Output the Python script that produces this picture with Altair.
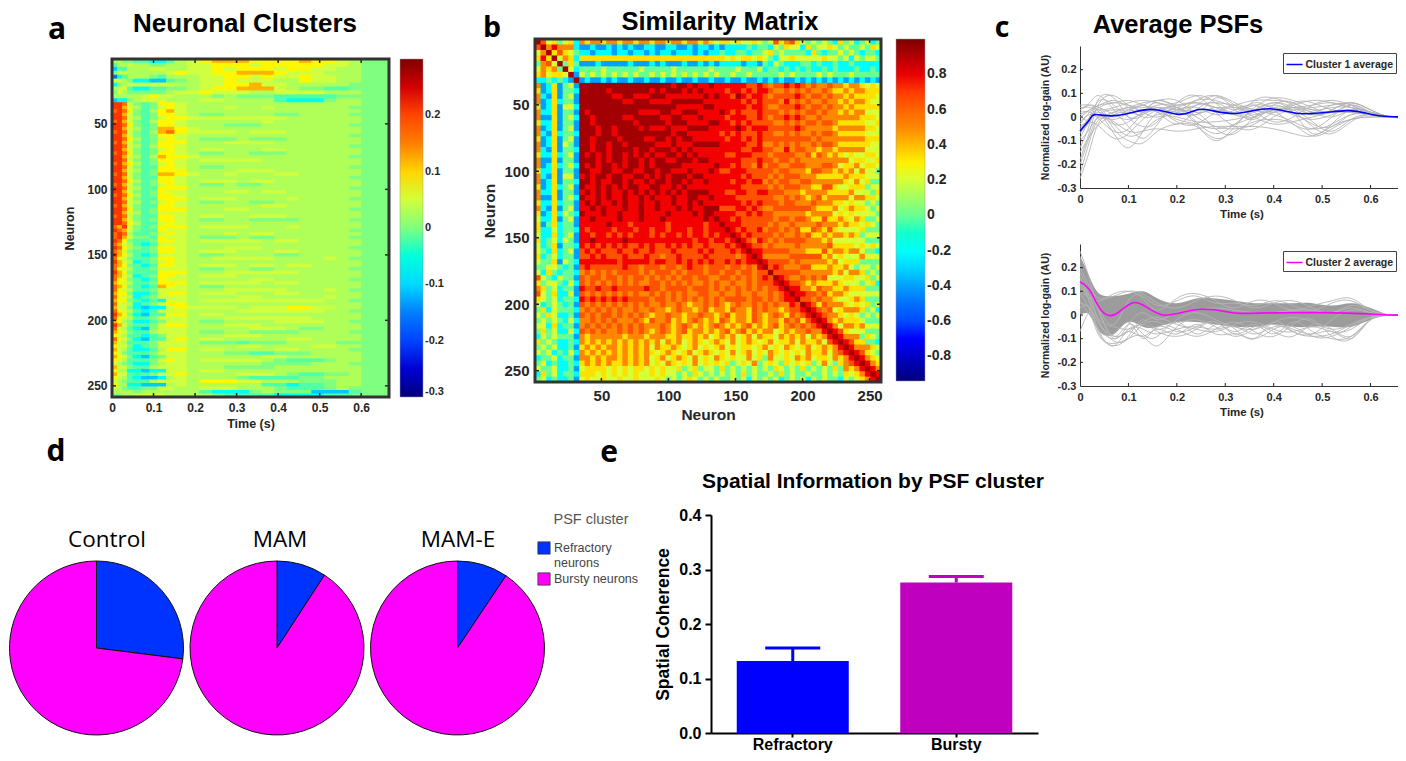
import altair as alt
import pandas as pd

OFF = 8
W, H = 1390, 745
SANS = "Liberation Sans"
JET = ["#00007f", "#0000ff", "#007fff", "#00ffff", "#7fff7f", "#ffff00", "#ff7f00", "#ff0000", "#7f0000"]
INK = "#262626"

# ---------- panel a: neuron x time gain, coded per cell
A_LEVELS = {"0": -0.16, "1": -0.11, "2": -0.065, "3": -0.02, "4": 0.0, "5": 0.03, "6": 0.048,
            "7": 0.08, "8": 0.12, "9": 0.17, "A": 0.21}
A_TIME_EDGES = [0, .012, .024, .036, .05, .07, .09, .11, .13, .15, .18, .21, .24, .27, .3, .33, .36, .39,
                .42, .45, .48, .51, .54, .57, .6, .63, .667]
A_CLUSTER1 = [
    "55443322356788877778776544", "35565544556677767777766544", "13355566556676777677665544",
    "46655555676677888766655544", "02355543555667767667665544", "66542211345667666557665544",
    "24566666655667786655555444", "56632233445677888654433444", "46544444566766655666655544",
    "55555676655545444333334444", "12245666555665555322245544",
]
A_CLUSTER2 = [
    "AA964347765555555555555544", "AA865346765556556555555444", "9A974357865555555555555544",
    "AA864347765445555445555444", "AA965346776666666655555544", "9A864357765555556555555544",
    "AA974347765554445555555444", "AA865348876555555555555544", "9A964358976666566655555544",
    "AA864347765555555555555444", "AA975346765444544455555544", "9A864347775556666555555544",
    "AA965357765555555555555444", "AA864346765665556655555544", "9A974347765445544455555544",
    "AA865358776555555555555444", "AA964347765666665555555544", "9A875346765555555555555544",
    "AA964337765445555555555444", "AA865347775555666555555544", "9A964348876556555665555544",
    "AA864337765555555555555444", "AA975347765666566555555544", "9A864346765445445555555544",
    "AA965337775555555555555444", "AA864347665556656655555544", "9A975347765555555555555544",
    "AA864337775666555565555444", "AA965346765445544555555544", "9A864337765555556655555544",
    "AA974347775556655555555444", "AA865346665555555555555544", "9A964337765665566655555544",
    "AA864347765445544445555444", "AA975336765555555555555544", "98A64347775666655565555544",
    "A9864337665555555555555444", "9A953346765556566555555544",
    "9A864437665444544555555444", "A9743347765666665665555544", "98653236665555555555555544",
    "A9754347765556665555555444", "98643347765666555665555544", "A8753236665445555445555544",
    "97643347765566666555565444", "A8652346765555555555555544", "98743237765666566566555544",
    "97653346665445544555555444", "A8743337775556666665555544", "98652347765666555555555544",
    "97743237665555566555555444", "87653347775666665665555544", "98743238765445555555555544",
    "97653346665556666655565444", "87742236775666555665555544", "97652346665555665555565544",
    "87743232665666666666655444", "96652346775555555555555544",
    "86642122676666566677665544", "97653236665555666666655444", "A8742133775665555555555544",
    "97653346665556666666555544", "87542234665445555666655444", "A8643346775556665555555544",
    "96532146665555566654455544", "87643356665445544445555444", "76533234665556665555555544",
    "97642133675665555566555544", "86533346665444344455554444", "76642346665555665555665544",
    "86532235775665555665555444", "76433346665554433444555544", "87642134665555556655555544",
    "76533346765666665433345544", "65432245665555554444555444", "86643356665554444555555544",
    "75522122665665555555555544", "86633346675555666543344544",
    "76532112565555433334455544", "65433356665777665554445544", "75522111565555553323345544",
    "65433446655666555433345444", "55554555555322245444111344", "44556666555543333222233444",
]

# ---------- panel b: similarity matrix, coded per block, lower triangle (the matrix is symmetric)
B_LEVELS = {"0": -0.6, "1": -0.4, "2": -0.2, "3": 0.0, "4": 0.2, "5": 0.33, "6": 0.5, "7": 0.65, "8": 0.78, "9": 0.93}
B_OWN1 = ["", "7", "46", "585", "3674", "46563", "564554", "2232321"]
B_CROSS = [
    "61251341", "51251332", "62151341", "61252331", "51251442", "62251331", "61151342", "52251331",
    "61251341", "62152332", "51251341", "61251431", "62151332", "52252341", "61151331", "61252342",
    "52251331", "62151441", "61251332", "51252341", "62251331", "61151342", "52252331", "62151341",
    "51252432", "42251341", "51352331", "52242332", "42252341", "52342431", "42351332", "43252341",
    "52342331", "43351432", "33443231", "42532332", "74324331", "53443242", "65342331", "74352241",
    "54342332", "42343231", "35243332", "43542231", "34343242", "44252331", "35342242", "24343331",
    "53432232", "34342231", "43423242", "23342331", "34232232", "43342231", "25342332", "34232231",
]
B_OWN2 = [
    "", "9", "99", "999", "9999", "98999", "998999", "9989999", "99989989", "999899899",
    "9989999899", "99899899899", "998998999989", "9898989989898", "99989899899898",
    "989899898998989", "9988998899889989", "89899899889989898", "998988998988989989",
    "9889898989988998898", "89898988989898989898", "988989889889898889889",
    "8989889898898898898898", "88989888988988988898988", "988898898889888898888989",
    "8898888988898889888888898", "88888988878888887888888788", "878888788878878878887887888",
    "8878878787888787887878878788", "88988888988888888888878878878", "878787878778787787878778777878",
    "7878777877877877787777878777878", "77878777877787767787777877777678",
    "888888878888878877878787877878788", "7877777787767776776787767776776768",
    "67676767777676777676777677677677677", "767767767677676767677677667767676787",
    "7676767676766776767676676766766767778", "87787787777787767777677767676767676778",
    "767676767676676767676677667667667667678", "8787878787777677676767676767777677676788",
    "76767676767676676676566767656766767676687", "676767676676676656766567566576657676656778",
    "7676776767676566766566766567566576567657678", "66767676667657667565676565765665765665767578",
    "676767676767666765676565676565675656756767678", "7676766767676567656756656567567565664565667668",
    "65666666566656665565565645656456465546565646568", "656565656565656465645654565464565456455646556478",
    "5656566565656465565456454564545545645465456456568", "65656565656565456545645654546456454654545465564678",
    "665656656565645645654645465454464536445465645546568", "5656565565656454654546454545345463454354545346435678",
    "45555454545545454453453443534343434354343534343536568", "555454545454454544343543434343534334353433433434354568",
    "4544544544544454343454343433434243434234342434332434568",
]

# ---------- panel c: PSF curves, value x 100, on a common time grid
PSF_T = [0, .02, .04, .07, .1, .13, .16, .2, .24, .28, .32, .36, .4, .44, .48, .52, .56, .6, .64, .667]
C1_LINES = [
    [-26, -14, -2, 2, 3, 2, 3, 2, 1, 4, 1, 0, 3, 1, -1, 1, 3, 1, 0, 0],
    [-18, -6, 6, 9, 5, 2, 0, 3, 4, 1, 3, 5, 2, 4, 3, 2, 2, 1, 0, 0],
    [-13, -3, 8, 8, 0, -4, -2, 4, 1, 8, 3, -1, 5, 6, 2, 5, 5, 1, 0, 0],
    [5, 5, 2, -7, -13, -6, 2, 4, -2, -7, -3, 3, 6, 2, -7, -3, 3, 2, 0, 0],
    [3, 6, 9, 3, -4, -9, -3, 6, 9, 2, -4, -5, 0, 2, -4, -7, -2, 1, 0, 0],
    [-6, -2, 3, -5, -10, -11, -6, -3, -4, -9, -6, -2, -1, -3, -8, -5, -1, 0, 0, 0],
    [4, 4, 3, 4, 6, 7, 6, 4, 0, -4, -5, -3, 2, 5, 7, 6, 4, 2, 0, 0],
    [-9, -1, 2, 0, 3, 5, 7, 4, -3, -10, -4, 4, 8, 7, 4, 2, 5, 2, 0, 0],
    [-3, 2, 5, 6, 7, 5, 3, -1, -3, -5, -3, 0, 3, 4, 5, 6, 4, 2, 0, 0],
    [-4, -1, 1, -3, -2, 2, 5, 6, 9, 6, 1, 7, 8, 5, 1, 3, 6, 3, 0, 0],
    [0, 3, 4, -3, -8, -6, -1, 2, 7, 9, 5, 0, -3, -2, 0, 2, 3, 1, 0, 0],
    [-20, -8, 1, 3, 4, 6, 7, 7, 2, 3, 1, 2, 5, 2, -3, -4, 1, 1, 0, 0],
    [-10, -5, 0, -2, -6, -6, -5, -6, -5, -4, -4, -4, -5, -7, -8, -4, -1, 0, 0, 0],
    [-15, -8, -3, 1, 2, 1, 4, 3, 5, 6, 5, 3, 1, -2, -5, -3, 1, 1, 0, 0],
    [1, 3, 5, 7, 4, 0, 1, 4, 6, 4, 2, 5, 4, 3, 4, 5, 6, 3, 0, 0],
    [-2, 1, -1, -6, -5, 2, 6, 3, 2, -5, -7, 0, 4, 4, 2, 0, 3, 2, 0, 0],
    [2, 2, 0, 2, 4, 3, 2, -3, 3, 6, 3, 6, 3, -3, -5, 0, 5, 2, 0, 0],
    [-7, 0, 7, 5, 0, 1, 7, 5, 7, 7, 4, 3, 6, 4, 1, 3, 6, 3, 0, 0],
    [-24, -10, -1, -1, 2, 5, 2, 0, -2, -2, -1, 1, 3, 3, -2, -6, -1, 1, 0, 0],
    [0, -2, -4, -9, -7, -1, 3, 5, 6, 4, 5, 7, 7, 6, 3, 4, 4, 2, 0, 0],
    [-5, 0, 4, 6, 5, 4, 4, 2, 5, 9, 6, 3, 2, 6, 6, 3, 2, 1, 0, 0],
    [3, 5, 4, 1, -1, 2, 3, -2, -3, 2, 4, 2, -2, 0, 5, 7, 5, 2, 0, 0],
]
C2_BAND_UPPER = [25, 16, 9, 8, 9, 10, 7, 5, 7, 7, 6, 5, 5, 5, 5, 4, 5, 3, 0, 0]
C2_BAND_LOWER = [0, 0, -7, -8, -3, -5, -5, -3, -3, -4, -5, -5, -4, -5, -5, -5, -5, -2, 0, 0]
C2_LINES = [
    [27, 15, 1, -10, -4, 1, -2, 1, 2, 3, 2, 1, 1, 2, 2, 1, 3, 1, 0, 0],
    [16, 5, -8, -13, -9, -2, -6, -2, 1, -2, -5, -6, -3, -1, -3, -6, -4, -1, 0, 0],
    [9, 2, -9, -12, -10, -9, -13, -5, -2, -5, -9, -6, -4, -7, -8, -2, 2, 1, 0, 0],
    [6, 0, -6, -10, -7, -9, -6, -8, -4, -8, -8, -10, -6, -5, -9, -9, -5, -1, 0, 0],
    [-7, 1, -4, -8, -3, -10, -5, -7, -5, -3, -7, -4, -8, -3, -7, -10, -9, -2, 0, 0],
    [13, 8, 6, 9, 10, 7, 2, 7, 9, 6, 3, 6, 5, 2, 4, 6, 7, 2, 0, 0],
    [20, 12, 7, 8, 10, 9, 5, 3, 6, 8, 6, 3, 5, 6, 3, 1, 4, 2, 0, 0],
    [10, 7, 1, -9, -4, -8, -9, -3, -8, -4, -6, -10, -3, -7, -9, -8, -4, -1, 0, 0],
    [5, 3, -4, -11, -10, -4, -3, -6, -9, -6, -3, -7, -9, -4, -2, -9, -10, -2, 0, 0],
    [14, 8, -3, -9, -7, -4, -7, -9, -6, -3, -8, -5, -7, -9, -4, -6, -9, -2, 0, 0],
    [3, 3, -7, -13, -6, -6, -8, -6, -5, -6, -5, -8, -5, -6, -8, -7, -10, -2, 0, 0],
    [18, 10, 2, -4, 6, 8, 4, 6, 8, 5, 5, 4, 6, 4, 2, 5, 6, 2, 0, 0],
    [12, 6, -2, -5, -6, -3, -1, -4, -6, -7, -4, -3, -6, -7, -5, -7, -6, -1, 0, 0],
]
AVG1_T = [0, .01, .02, .03, .06, .1, .15, .2, .23, .26, .32, .39, .46, .55, .6, .64, .667]
AVG1_Y = [-.06, -.035, -.01, .01, .005, .015, .032, .012, .022, .032, .015, .035, .014, .027, .012, .002, 0]
AVG2_T = [0, .02, .04, .06, .08, .11, .14, .17, .2, .25, .3, .33, .4, .5, .55, .6, .64, .667]
AVG2_Y = [.14, .105, .03, -.002, .012, .052, .03, 0, .006, .024, .015, .007, .009, .01, .008, .004, 0, 0]

# ---------- panel d: pies
PIE_GROUPS = ["Control", "MAM", "MAM-E"]
PIE_CATEGORIES = ["Refractory neurons", "Bursty neurons"]
PIE_REFRACTORY = [0.27, 0.092, 0.094]
PIE_COLORS = ["#0033ff", "#ff00ff"]

# ---------- panel e: bars
BAR_CATEGORIES = ["Refractory", "Bursty"]
BAR_VALUES = [0.132, 0.276]
BAR_ERR_TOP = [0.156, 0.287]
BAR_COLORS = ["#0000ff", "#bf00bf"]

TENTHS = "toString(round(datum.value*10)/10)"


def text(s, x, y, size, font=SANS, weight="bold", color="black"):
    return alt.Chart(alt.Data(values=[{"t": s}])).mark_text(
        font=font, fontSize=size, fontWeight=weight, color=color, align="center", baseline="middle"
    ).encode(text="t:N", x=alt.value(x - OFF), y=alt.value(y - OFF))


def axis(orient, offset, values=None, **kw):
    opts = dict(orient=orient, offset=offset, grid=False, labelFont=SANS, labelFontWeight="bold",
                labelColor=INK, titleFont=SANS, titleFontWeight="bold", titleColor=INK, ticks=False, domain=False,
                labelFlush=False, labelOverlap=False)
    if values is not None:
        opts["values"] = values
    opts.update(kw)
    return alt.Axis(**opts)


def ticks_x(values, scale, y_px, length, width=1.5, color="#222"):
    return alt.Chart(pd.DataFrame({"v": values})).mark_rule(color=color, strokeWidth=width).encode(
        x=alt.X("v:Q", scale=scale, axis=None), y=alt.value(y_px - OFF), y2=alt.value(y_px - OFF + length))


def ticks_y(values, scale, x_px, length, width=1.5, color="#222"):
    return alt.Chart(pd.DataFrame({"v": values})).mark_rule(color=color, strokeWidth=width).encode(
        y=alt.Y("v:Q", scale=scale, axis=None), x=alt.value(x_px - OFF), x2=alt.value(x_px - OFF + length))


def frame(x0, x1, y0, y1, color="#333", width=3):
    return alt.Chart(alt.Data(values=[{"k": 1}])).mark_rect(fill=None, stroke=color, strokeWidth=width).encode(
        x=alt.value(x0 - OFF), x2=alt.value(x1 - OFF), y=alt.value(y0 - OFF), y2=alt.value(y1 - OFF))


def cluster_edges(*counts_sizes):
    edges, start = [0.5], 0.5
    for n_rows, n_neurons in counts_sizes:
        for i in range(1, n_rows + 1):
            edges.append(start + n_neurons * i / n_rows)
        start += n_neurons
    return edges


layers = []
T_MAX = 0.667
N_MAX = 258.5
SEAM_T = 0.003   # cells overlap a hair so no white seams show between them
SEAM_N = 0.8

# ---- a
a_sx = alt.Scale(domain=[0, T_MAX], range=[112 - OFF, 389 - OFF])
a_sy = alt.Scale(domain=[0.5, N_MAX], range=[59 - OFF, 397 - OFF])
a_rows = A_CLUSTER1 + A_CLUSTER2
a_edges = cluster_edges((len(A_CLUSTER1), 33), (len(A_CLUSTER2), 225))
n_cols = len(A_TIME_EDGES) - 1
a_cells = []
for r, row in enumerate(a_rows):
    row = row[:n_cols].ljust(n_cols, "4")
    for c, ch in enumerate(row):
        a_cells.append({"t0": A_TIME_EDGES[c], "t1": min(A_TIME_EDGES[c + 1] + SEAM_T, T_MAX),
                        "n0": a_edges[r], "n1": min(a_edges[r + 1] + SEAM_N, N_MAX), "gain": A_LEVELS[ch]})
time_ticks = [0, .1, .2, .3, .4, .5, .6]
neuron_ticks = [50, 100, 150, 200, 250]
layers.append(alt.Chart(pd.DataFrame(a_cells)).mark_rect().encode(
    x=alt.X("t0:Q", scale=a_sx, title="Time (s)",
            axis=axis("bottom", 397 - OFF - H, time_ticks, labelFontSize=12, titleFontSize=12.5,
                      labelPadding=5, titlePadding=4, labelExpr=TENTHS)),
    x2="t1:Q",
    y=alt.Y("n0:Q", scale=a_sy, title="Neuron",
            axis=axis("left", -(112 - OFF), neuron_ticks, labelFontSize=12, titleFontSize=12.5,
                      labelPadding=5, titlePadding=10)),
    y2="n1:Q",
    color=alt.Color("gain:Q", scale=alt.Scale(domain=[-0.3, 0.3], range=JET), legend=alt.Legend(
        orient="none", legendX=400 - OFF, legendY=59 - OFF, gradientLength=338, gradientThickness=23,
        title=None, values=[-.3, -.2, -.1, 0, .1, .2], labelFont=SANS, labelFontWeight="bold", labelBaseline="middle",
        labelFontSize=11, labelColor=INK, labelExpr=TENTHS, gradientStrokeColor="#999", gradientStrokeWidth=0.5)),
))
layers.append(ticks_y(neuron_ticks, a_sy, 112, 4))
layers.append(ticks_y(neuron_ticks, a_sy, 385, 4))
layers.append(ticks_x(time_ticks[1:], a_sx, 393, 4))
layers.append(ticks_x(time_ticks[1:], a_sx, 59, 4))
layers.append(frame(112, 389, 59, 397))

# ---- b
b_sx = alt.Scale(domain=[0.5, N_MAX], range=[535 - OFF, 881 - OFF])
b_sy = alt.Scale(domain=[0.5, N_MAX], range=[39 - OFF, 382 - OFF])
b_edges = cluster_edges((len(B_OWN1), 33), (len(B_OWN2), 225))
b_n = len(B_OWN1) + len(B_OWN2)
grid = {}
for r, row in enumerate(B_OWN1):
    for c, ch in enumerate(row.ljust(r, row[-1:] or "9")[:r]):
        grid[(r, c)] = ch
for k, cross in enumerate(B_CROSS):
    r = len(B_OWN1) + k
    for c, ch in enumerate(cross):
        grid[(r, c)] = ch
for k, row in enumerate(B_OWN2):
    r = len(B_OWN1) + k
    for c, ch in enumerate(row.ljust(k, row[-1:] or "9")[:k]):
        grid[(r, len(B_OWN1) + c)] = ch
b_cells = []
for r in range(b_n):
    for c in range(b_n):
        ch = "9" if r == c else grid.get((max(r, c), min(r, c)), "5")
        b_cells.append({"x0": b_edges[c], "x1": min(b_edges[c + 1] + SEAM_N, N_MAX),
                        "y0": b_edges[r], "y1": min(b_edges[r + 1] + SEAM_N, N_MAX), "sim": B_LEVELS[ch]})
layers.append(alt.Chart(pd.DataFrame(b_cells)).mark_rect().encode(
    x=alt.X("x0:Q", scale=b_sx, title="Neuron",
            axis=axis("bottom", 382 - OFF - H, neuron_ticks, labelFontSize=15, titleFontSize=15.5,
                      labelPadding=6, titlePadding=4)),
    x2="x1:Q",
    y=alt.Y("y0:Q", scale=b_sy, title="Neuron",
            axis=axis("left", -(535 - OFF), neuron_ticks, labelFontSize=15, titleFontSize=15.5,
                      labelPadding=6, titlePadding=6)),
    y2="y1:Q",
    color=alt.Color("sim:Q", scale=alt.Scale(domain=[-0.94, 1], range=JET), legend=alt.Legend(
        orient="none", legendX=896 - OFF, legendY=39 - OFF, gradientLength=342, gradientThickness=29,
        title=None, values=[-.8, -.6, -.4, -.2, 0, .2, .4, .6, .8], labelFont=SANS, labelFontWeight="bold",
        labelFontSize=14, labelColor=INK, labelExpr=TENTHS, gradientStrokeColor="#999", gradientStrokeWidth=0.5)),
))
layers.append(ticks_y(neuron_ticks, b_sy, 535, 4))
layers.append(ticks_y(neuron_ticks, b_sy, 877, 4))
layers.append(ticks_x(neuron_ticks, b_sx, 378, 4))
layers.append(ticks_x(neuron_ticks, b_sx, 39, 4))
layers.append(frame(535, 881, 39, 382))


# ---- c
def long_lines(lines, prefix):
    out = []
    for i, vals in enumerate(lines):
        for t, v in zip(PSF_T, vals):
            out.append({"t": t, "y": v / 100, "id": f"{prefix}{i}"})
    return pd.DataFrame(out)


def psf_panel(top, bottom, lines, avg_t, avg_y, name, color, band=None):
    sx = alt.Scale(domain=[0, T_MAX], range=[1080 - OFF, 1403 - OFF])
    sy = alt.Scale(domain=[-0.3, 0.3], range=[bottom - OFF, top - OFF])
    out = []
    if band:
        out.append(alt.Chart(pd.DataFrame({"t": PSF_T, "lo": [v / 100 for v in band[0]], "hi": [v / 100 for v in band[1]]}))
                   .mark_area(color="#9c9c9c", interpolate="natural").encode(
                       x=alt.X("t:Q", scale=sx, axis=None), y=alt.Y("lo:Q", scale=sy, axis=None), y2="hi:Q"))
    out.append(alt.Chart(long_lines(lines, name)).mark_line(color="#b4b4b4", strokeWidth=0.9, interpolate="natural").encode(
        x=alt.X("t:Q", scale=sx, title="Time (s)",
                axis=axis("bottom", bottom - OFF - H, time_ticks, labelFontSize=11, titleFontSize=11.5, labelPadding=5,
                          titlePadding=4, labelExpr=TENTHS, domain=True, domainColor="#333", domainWidth=1)),
        y=alt.Y("y:Q", scale=sy, title="Normalized log-gain (AU)",
                axis=axis("left", -(1080 - OFF), [-.3, -.2, -.1, 0, .1, .2], labelFontSize=11, titleFontSize=10.5, labelPadding=4,
                          titlePadding=7, labelExpr=TENTHS, domain=True, domainColor="#333", domainWidth=1)),
        detail="id:N"))
    out.append(alt.Chart(pd.DataFrame({"t": avg_t, "y": avg_y, "name": [name] * len(avg_t)})).mark_line(
        strokeWidth=1.6, interpolate="natural").encode(
        x=alt.X("t:Q", scale=sx, axis=None), y=alt.Y("y:Q", scale=sy, axis=None),
        color=alt.Color("name:N", scale=alt.Scale(domain=[name], range=[color]), legend=alt.Legend(
            orient="none", legendX=1283 - OFF, legendY=top + 7 - OFF, title=None, strokeColor="#444", padding=2.5,
            symbolType="stroke", symbolStrokeWidth=1.5, symbolSize=260, labelFont=SANS, labelFontWeight="bold",
            labelFontSize=10.5, labelColor=INK, labelOffset=2))))
    out.append(ticks_x(time_ticks[1:], sx, bottom - 3, 3, width=1))
    out.append(ticks_y([-.2, -.1, 0, .1, .2], sy, 1080, 3, width=1))
    return out


layers += psf_panel(46, 188, C1_LINES, AVG1_T, AVG1_Y, "Cluster 1 average", "#0000ff")
layers += psf_panel(244, 386, C2_LINES, AVG2_T, AVG2_Y, "Cluster 2 average", "#ff00ff",
                    band=(C2_BAND_LOWER, C2_BAND_UPPER))

# ---- d
PIE_CENTERS = [96.5, 277, 457.5]
PIE_TITLE_X = [107, 280, 458]
for i, (group, share, cx, tx) in enumerate(zip(PIE_GROUPS, PIE_REFRACTORY, PIE_CENTERS, PIE_TITLE_X)):
    legend = None
    if i == 2:
        legend = alt.Legend(orient="none", legendX=537 - OFF, legendY=541 - OFF, title=None, symbolType="square",
                            symbolSize=150, symbolStrokeColor="#333", symbolStrokeWidth=0.8, labelFont=SANS,
                            labelFontSize=12.5, labelColor="#444", labelOffset=3,
                            labelExpr="datum.label == 'Refractory neurons' ? ['Refractory', 'neurons'] : datum.label",
                            symbolOpacity=1, rowPadding=2, labelLimit=120)
    df = pd.DataFrame({"cat": PIE_CATEGORIES, "share": [share, 1 - share], "ord": [0, 1]})
    layers.append(alt.Chart(df).mark_arc(outerRadius=87, stroke="#111", strokeWidth=1).encode(
        theta=alt.Theta("share:Q", stack=True),
        order=alt.Order("ord:Q"),
        color=alt.Color("cat:N", scale=alt.Scale(domain=PIE_CATEGORIES, range=PIE_COLORS), legend=legend),
        x=alt.value(cx - OFF), y=alt.value(648 - OFF)))
    layers.append(text(group, tx, 540, 22.5, font="Open Sans", weight="normal"))
layers.append(text("PSF cluster", 591, 520, 14.5, weight="normal", color="#555"))

# ---- e
bar_df = pd.DataFrame({"cat": BAR_CATEGORIES, "val": BAR_VALUES, "top": BAR_ERR_TOP})
e_sx = alt.Scale(domain=BAR_CATEGORIES, range=[711 - OFF, 1038 - OFF], paddingInner=0.315, paddingOuter=0.1575)
e_sy = alt.Scale(domain=[0, 0.4], range=[733 - OFF, 515 - OFF])
e_col = alt.Scale(domain=BAR_CATEGORIES, range=BAR_COLORS)
layers.append(alt.Chart(bar_df).mark_rule(strokeWidth=3).encode(
    x=alt.X("cat:N", scale=e_sx, axis=None), y=alt.Y("val:Q", scale=e_sy, axis=None), y2="top:Q",
    color=alt.Color("cat:N", scale=e_col, legend=None)))
layers.append(alt.Chart(bar_df).mark_tick(size=55, thickness=3, opacity=1).encode(
    x=alt.X("cat:N", scale=e_sx, axis=None), y=alt.Y("top:Q", scale=e_sy, axis=None),
    color=alt.Color("cat:N", scale=e_col, legend=None)))
layers.append(alt.Chart(bar_df).mark_bar().encode(
    x=alt.X("cat:N", scale=e_sx, title=None,
            axis=axis("bottom", 733 - OFF - H, labelFontSize=16, labelAngle=0, labelColor="black", labelPadding=-1, ticks=True, tickColor="black",
                      tickWidth=2, tickSize=4, domain=True, domainColor="black", domainWidth=2)),
    y=alt.Y("val:Q", scale=e_sy, title="Spatial Coherence",
            axis=axis("left", -(711 - OFF), [0, .1, .2, .3, .4], format=".1f", labelFontSize=16, labelColor="black",
                      labelPadding=4, titleFontSize=17.5, titleColor="black", titlePadding=6, ticks=True, tickColor="black", tickWidth=2,
                      tickSize=6, domain=True, domainColor="black", domainWidth=2)),
    color=alt.Color("cat:N", scale=e_col, legend=None)))

# ---- titles and panel letters
for s, x, y, size in [("Neuronal Clusters", 245, 24, 26), ("Similarity Matrix", 720, 22, 25.5),
                      ("Average PSFs", 1178, 25, 25.5), ("Spatial Information by PSF cluster", 873, 482, 21)]:
    layers.append(text(s, x, y, size))
for s, x, y, size in [("a", 57, 30, 30), ("b", 492, 28, 28.5), ("c", 1002, 28, 28.5), ("d", 56, 452, 30), ("e", 609, 453, 30)]:
    layers.append(text(s, x, y, size, font="Open Sans"))

chart = alt.layer(*layers).resolve_scale(
    x="independent", y="independent", color="independent", theta="independent"
).resolve_axis(x="independent", y="independent").resolve_legend(color="independent").properties(
    width=W, height=H, padding=0, autosize=alt.AutoSizeParams(type="none")
).configure_view(stroke=None)

chart.save("out.html", embed_options={"renderer": "svg", "actions": False})
